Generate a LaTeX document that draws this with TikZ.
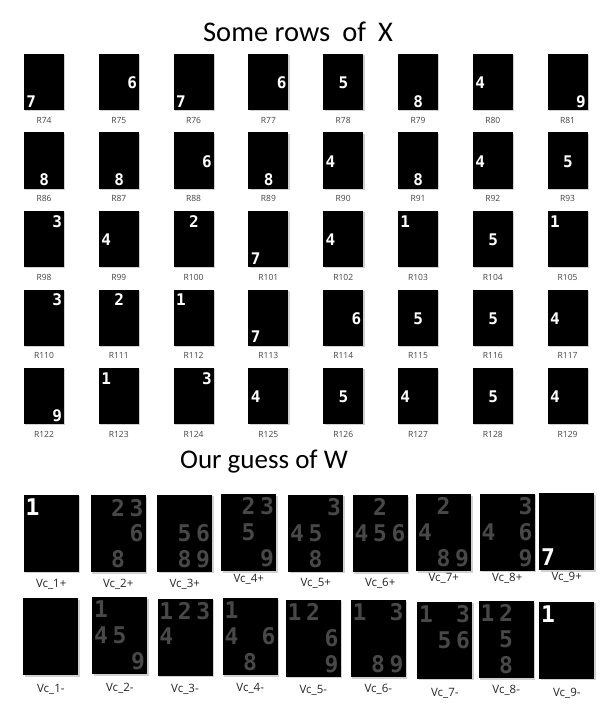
\documentclass[tikz,border=0pt]{standalone}
\usepackage{fontspec}
\setmainfont{Carlito}
\newfontfamily\labfont{Open Sans}
\newfontfamily\digfont{DejaVu Sans Mono}
\usetikzlibrary{shadows,positioning}

\definecolor{wgray}{RGB}{72,72,72}
\definecolor{labgray}{RGB}{68,68,68}

\tikzset{
  xbox/.style={fill=black, inner sep=0pt, minimum width=40pt, minimum height=56pt,
    drop shadow={shadow xshift=1.3pt, shadow yshift=-1.3pt, opacity=0.18, fill=black}},
  wbox/.style={xbox, minimum width=55pt, minimum height=77pt},
  xdig/.style={white, inner sep=0pt, font=\digfont\bfseries\fontsize{16}{16}\selectfont,
    text height=11.7pt, text depth=0pt},
  wdig/.style={wgray, inner sep=0pt, font=\digfont\bfseries\fontsize{23}{23}\selectfont,
    text height=16.8pt, text depth=0pt},
  xlab/.style={labgray, inner sep=0pt, font=\labfont\fontsize{8.5}{8.5}\selectfont},
  wlab/.style={black!85, inner sep=0pt, font=\labfont\fontsize{11.5}{11.5}\selectfont},
  title/.style={inner sep=0pt, anchor=base, font=\fontsize{27}{27}\selectfont},
}

\begin{document}
\begin{tikzpicture}[x=1pt,y=-1pt]
  \useasboundingbox (0,0) rectangle (614,722);

  % titles
  \node[title, font=\fontsize{28.5}{28.5}\selectfont] (tx) at (298,42)
    {Some rows\hspace{12pt}of\hspace{12pt}X};
  \node[title] (tw) at (264,468) {Our guess of W};

  % rows of X, digit k sits in cell k of a 3x3 grid
  \foreach \r/\lst in {0/{74/7,75/6,76/7,77/6,78/5,79/8,80/4,81/9},
                       1/{86/8,87/8,88/6,89/8,90/4,91/8,92/4,93/5},
                       2/{98/3,99/4,100/2,101/7,102/4,103/1,104/5,105/1},
                       3/{110/3,111/2,112/1,113/7,114/6,115/5,116/5,117/4},
                       4/{122/9,123/1,124/3,125/4,126/5,127/4,128/5,129/4}}{
    \foreach \n/\d [count=\c from 0] in \lst {
      \pgfmathsetmacro\bx{44+74.8*\c}
      \pgfmathsetmacro\by{82+78.5*\r}
      \pgfmathsetmacro\ox{7.5+13*mod(\d-1,3)}
      \pgfmathsetmacro\oy{10.5+18.5*div(\d-1,3)}
      \node[xbox] (r\n) at (\bx,\by) {};
      \node[xdig] (d\n) at ([xshift=\ox pt, yshift=-\oy pt]r\n.north west) {\d};
      \node[xlab] (l\n) at ([yshift=-10pt]r\n.south) {R\n};
    }
  }

  % columns of W, plus and minus parts
  \foreach \i/\cx/\cy/\ly in {1/51.2/533.3/584, 2/118.2/533.8/584, 3/184.8/533.5/584,
                              4/248.8/532.7/579, 5/315.8/533.5/583, 6/380.2/533.7/583,
                              7/443.8/532.7/578, 8/507.2/532.3/578, 9/566.7/531.7/577}{
    \node[wbox] (wp\i) at (\cx,\cy) {};
    \node[wlab] (lp\i) at (\cx,\ly) {Vc\_\i+};
  }
  \foreach \i/\cx/\cy/\ly in {1/50.8/636.7/689, 2/119.8/635.7/688, 3/185/637/689,
                              4/250.2/636.7/688, 5/313.3/638.3/690, 6/378.3/638.7/689,
                              7/444.8/640.3/693, 8/506.2/639.7/690, 9/566.8/640/693}{
    \node[wbox] (wm\i) at (\cx,\cy) {};
    \node[wlab] (lm\i) at (\cx,\ly) {Vc\_\i-};
  }

  % faint digits of W
  \foreach \b/\d in {wp2/2,wp2/3,wp2/6,wp2/8, wp3/5,wp3/6,wp3/8,wp3/9,
                     wp4/2,wp4/3,wp4/5,wp4/9, wp5/3,wp5/4,wp5/5,wp5/8,
                     wp6/2,wp6/4,wp6/5,wp6/6, wp7/2,wp7/4,wp7/8,wp7/9,
                     wp8/3,wp8/4,wp8/6,wp8/9,
                     wm2/1,wm2/4,wm2/5,wm2/9, wm3/1,wm3/2,wm3/3,wm3/4,
                     wm4/1,wm4/4,wm4/6,wm4/8, wm5/1,wm5/2,wm5/6,wm5/9,
                     wm6/1,wm6/3,wm6/8,wm6/9, wm7/1,wm7/3,wm7/5,wm7/6,
                     wm8/1,wm8/2,wm8/5,wm8/8}{
    \pgfmathsetmacro\ox{9+18.5*mod(\d-1,3)}
    \pgfmathsetmacro\oy{12.5+25.75*div(\d-1,3)}
    \node[wdig] (\b-\d) at ([xshift=\ox pt, yshift=-\oy pt]\b.north west) {\d};
  }
  % bright ones
  \foreach \b/\d in {wp1/1,wp9/7,wm9/1}{
    \pgfmathsetmacro\ox{9+18.5*mod(\d-1,3)}
    \pgfmathsetmacro\oy{12.5+25.75*div(\d-1,3)}
    \node[wdig, white] (\b-\d) at ([xshift=\ox pt, yshift=-\oy pt]\b.north west) {\d};
  }
\end{tikzpicture}
\end{document}
